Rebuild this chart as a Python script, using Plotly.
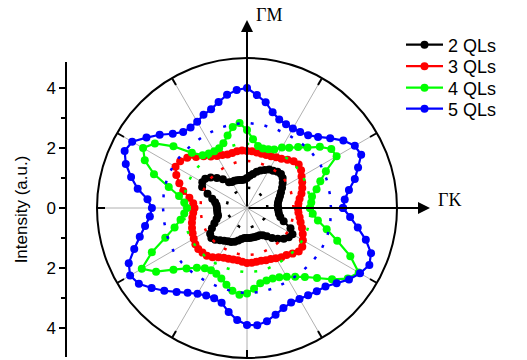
import plotly.graph_objects as go

# ---------------- data ----------------
angles = list(range(0, 360, 5))

r_2ql = [1.03, 1.03, 1.05, 1.10, 1.17, 1.25, 1.35, 1.45, 1.55, 1.60, 1.58, 1.52,
         1.48, 1.40, 1.33, 1.25, 1.15, 1.08, 1.00, 0.95, 0.95, 0.97, 0.98, 1.00,
         1.00, 1.05, 1.25, 1.42, 1.58, 1.70, 1.72, 1.65, 1.40, 1.20, 1.08, 1.02,
         1.00, 1.00, 1.00, 1.00, 1.08, 1.20, 1.35, 1.50, 1.55, 1.50, 1.40, 1.33,
         1.28, 1.25, 1.20, 1.12, 1.05, 1.00, 1.00, 1.00, 1.00, 1.00, 1.00, 1.00,
         1.05, 1.15, 1.30, 1.45, 1.60, 1.70, 1.75, 1.60, 1.30, 1.15, 1.08, 1.05]

r_3ql = [1.70, 1.72, 1.78, 1.88, 1.96, 2.03, 2.10, 2.20, 2.25, 2.20, 2.10, 2.00,
         1.95, 1.90, 1.88, 1.87, 1.88, 1.90, 1.90, 1.92, 1.92, 1.90, 1.90, 1.95,
         2.00, 2.10, 2.25, 2.40, 2.60, 2.72, 2.75, 2.60, 2.40, 2.20, 1.95, 1.80,
         1.75, 1.80, 1.85, 1.90, 1.95, 2.00, 2.05, 2.10, 2.12, 2.10, 2.08, 2.00,
         1.90, 1.83, 1.80, 1.78, 1.77, 1.80, 1.83, 1.83, 1.82, 1.82, 1.85, 1.88,
         1.93, 2.00, 2.05, 2.15, 2.25, 2.25, 2.15, 2.05, 1.95, 1.85, 1.78, 1.72]

r_4ql = [2.10, 2.15, 2.20, 2.40, 2.60, 2.90, 3.45, 3.43, 3.17, 2.85, 2.65, 2.45,
         2.33, 2.15, 2.08, 2.05, 2.10, 2.30, 2.60, 2.84, 2.74, 2.50, 2.30, 2.20,
         2.18, 2.22, 2.30, 2.60, 3.20, 3.75, 4.00, 3.76, 3.30, 2.70, 2.30, 2.10,
         2.00, 2.10, 2.25, 2.50, 2.90, 3.50, 4.05, 3.70, 3.20, 2.85, 2.60, 2.45,
         2.40, 2.42, 2.50, 2.65, 2.80, 2.90, 2.85, 2.70, 2.55, 2.50, 2.50, 2.55,
         2.65, 2.80, 3.00, 3.30, 3.70, 4.10, 4.30, 3.80, 3.20, 2.75, 2.40, 2.20]

r_5ql = [3.20, 3.27, 3.45, 3.72, 3.94, 4.20, 4.15, 3.92, 3.62, 3.35, 3.17, 3.09,
         3.06, 3.08, 3.14, 3.30, 3.58, 3.78, 4.00, 3.95, 3.83, 3.66, 3.50, 3.43,
         3.32, 3.28, 3.31, 3.50, 3.80, 4.09, 4.42, 4.50, 4.30, 4.00, 3.70, 3.33,
         3.17, 3.25, 3.45, 3.70, 4.00, 4.35, 4.50, 4.40, 4.15, 3.90, 3.65, 3.45,
         3.30, 3.22, 3.20, 3.27, 3.52, 3.75, 3.90, 3.92, 3.83, 3.68, 3.55, 3.48,
         3.50, 3.55, 3.62, 3.70, 3.90, 4.15, 4.35, 4.50, 4.40, 4.10, 3.75, 3.45]

# dotted reference curves (every 10 degrees)
fit_angles = list(range(0, 360, 10))
fit_2ql = [0.68, 0.68, 0.66, 0.64, 0.63, 0.64, 0.66, 0.68, 0.68, 0.68, 0.66, 0.64,
           0.63, 0.64, 0.66, 0.68, 0.68, 0.68, 0.68, 0.68, 0.66, 0.64, 0.63, 0.64,
           0.66, 0.68, 0.68, 0.68, 0.66, 0.64, 0.63, 0.64, 0.66, 0.68, 0.68, 0.68]
fit_3ql = [1.55, 1.55, 1.56, 1.57, 1.57, 1.56, 1.55, 1.55, 1.56, 1.57, 1.57, 1.56,
           1.55, 1.55, 1.56, 1.57, 1.57, 1.56, 1.55, 1.55, 1.56, 1.57, 1.57, 1.56,
           1.55, 1.55, 1.56, 1.57, 1.57, 1.56, 1.55, 1.55, 1.56, 1.57, 1.57, 1.56]
fit_4ql = [2.12, 2.12, 2.13, 2.14, 2.14, 2.13, 2.12, 2.12, 2.13, 2.14, 2.14, 2.13,
           2.12, 2.12, 2.13, 2.14, 2.14, 2.13, 2.12, 2.12, 2.13, 2.14, 2.14, 2.13,
           2.12, 2.12, 2.13, 2.14, 2.14, 2.13, 2.12, 2.12, 2.13, 2.14, 2.14, 2.13]
fit_5ql = [2.80, 2.80, 2.82, 2.84, 2.84, 2.82, 2.80, 2.80, 2.82, 2.84, 2.84, 2.82,
           2.80, 2.80, 2.82, 2.84, 2.84, 2.82, 2.80, 2.80, 2.82, 2.84, 2.84, 2.82,
           2.80, 2.80, 2.82, 2.84, 2.84, 2.82, 2.80, 2.80, 2.82, 2.84, 2.84, 2.82]

series_names = ["2 QLs", "3 QLs", "4 QLs", "5 QLs"]
series_colors = ["#000000", "#ff0000", "#00ff00", "#0000ff"]
y_tickvals = [-4, -2, 0, 2, 4]
y_ticktext = ["4", "2", "0", "2", "4"]

# ---------------- layout constants ----------------
W, H = 527, 360
CX, CY, R = 247, 208, 150      # centre and radius of the polar disc (px)
RMAX = 5.0
LEG_X = 401                    # left edge of legend entries (px)
LEG_Y = [45, 66.5, 88, 109]    # vertical centres of legend entries (px)

def close(seq):
    return list(seq) + [seq[0]]

fig = go.Figure()

legend_ids = ["legend", "legend2", "legend3", "legend4"]
for name, col, rr, lid in zip(series_names, series_colors,
                              [r_2ql, r_3ql, r_4ql, r_5ql], legend_ids):
    fig.add_trace(go.Scatterpolar(
        r=close(rr), theta=close(angles), mode="lines+markers", name=name,
        line=dict(color=col, width=2.2), marker=dict(color=col, size=8),
        legend=lid,
    ))

for col, rr in zip(series_colors, [fit_2ql, fit_3ql, fit_4ql, fit_5ql]):
    fig.add_trace(go.Scatterpolar(
        r=close(rr), theta=close(fit_angles), mode="lines", showlegend=False,
        line=dict(color=col, width=2.5, dash="3px,11px"), hoverinfo="skip",
    ))

# dummy trace to create the cartesian intensity axis
fig.add_trace(go.Scatter(x=[], y=[], showlegend=False, xaxis="x", yaxis="y"))

AX_X = 67
Y_TOP, Y_BOT = 62, 357
legend_style = dict(xanchor="left", yanchor="middle", bgcolor="rgba(0,0,0,0)",
                    font=dict(size=18), borderwidth=0, itemwidth=37)
legends = {}
for lid, yc in zip(legend_ids, LEG_Y):
    legends[lid] = dict(x=LEG_X / W, y=(H - yc) / H, **legend_style)

fig.update_layout(
    width=W, height=H,
    margin=dict(l=0, r=0, t=0, b=0),
    paper_bgcolor="white", plot_bgcolor="rgba(0,0,0,0)",
    font=dict(family="Liberation Sans, Arial", color="black"),
    polar=dict(
        domain=dict(x=[(CX - R) / W, (CX + R) / W], y=[(H - CY - R) / H, (H - CY + R) / H]),
        bgcolor="white",
        radialaxis=dict(range=[0, RMAX], showticklabels=False, showgrid=False,
                        showline=False, ticks=""),
        angularaxis=dict(direction="counterclockwise", rotation=0, dtick=30,
                         showticklabels=False, showgrid=True, gridcolor="#b0b0b0",
                         gridwidth=1, showline=True, linecolor="black", linewidth=2,
                         ticks="inside", ticklen=7, tickwidth=1.5, tickcolor="black"),
    ),
    xaxis=dict(domain=[AX_X / W, AX_X / W + 0.01], visible=False, range=[0, 1]),
    yaxis=dict(domain=[(H - Y_BOT) / H, (H - Y_TOP) / H],
               range=[-(Y_BOT - CY) / (R / RMAX), (CY - Y_TOP) / (R / RMAX)],
               tickvals=y_tickvals, ticktext=y_ticktext, ticks="outside",
               ticklen=6, tickwidth=1.5, tickcolor="black",
               minor=dict(tickvals=[-5, -3, -1, 1, 3], ticks="outside", ticklen=4,
                          tickwidth=1.5, tickcolor="black"),
               showline=True, linecolor="black", linewidth=1.5, showgrid=False,
               zeroline=False, tickfont=dict(size=17), automargin=False,
               title=dict(text="Intensity (a.u.)", font=dict(size=17), standoff=14)),
    showlegend=True,
    **legends,
)

# axis arrows (Gamma-M up, Gamma-K right)
fig.add_annotation(x=CX / W, y=(H - 20) / H, xref="paper", yref="paper",
                   ax=0, ay=CY - 20, axref="pixel", ayref="pixel", text="",
                   showarrow=True, arrowhead=2, arrowsize=1.2, arrowwidth=2, arrowcolor="black")
fig.add_annotation(x=430 / W, y=(H - CY) / H, xref="paper", yref="paper",
                   ax=-(430 - CX), ay=0, axref="pixel", ayref="pixel", text="",
                   showarrow=True, arrowhead=2, arrowsize=1.2, arrowwidth=2, arrowcolor="black")
fig.add_annotation(x=254 / W, y=(H - 15) / H, xref="paper", yref="paper", text="ΓM",
                   showarrow=False, xanchor="left", yanchor="middle",
                   font=dict(family="Liberation Serif", size=18))
fig.add_annotation(x=436 / W, y=(H - 200) / H, xref="paper", yref="paper", text="ΓK",
                   showarrow=False, xanchor="left", yanchor="middle",
                   font=dict(family="Liberation Serif", size=18))

fig.write_html("out.html", config={"displayModeBar": False},
               post_script="document.body.style.margin='0';")
